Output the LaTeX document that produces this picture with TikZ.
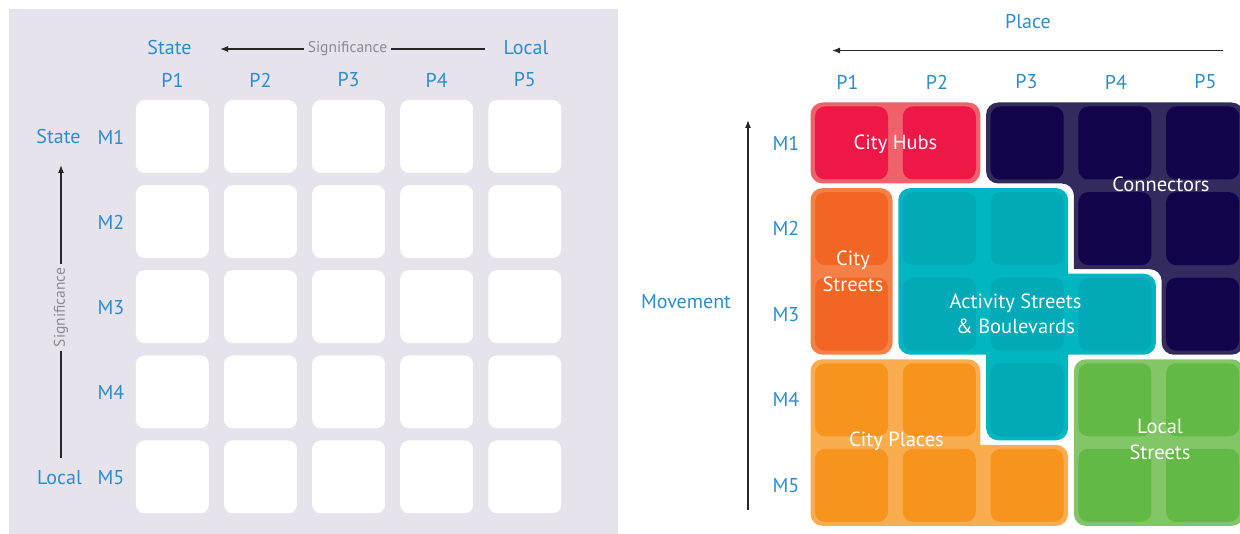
\documentclass[tikz,border=0pt]{standalone}
\usepackage{fontspec}
\setmainfont{PT Sans}
\usetikzlibrary{arrows.meta, positioning}

\definecolor{panelbg}{HTML}{E6E3ED}
\definecolor{axisblue}{HTML}{2B8DCB}
\definecolor{siggray}{HTML}{8C8A90}
\definecolor{hubcell}{HTML}{EE1847}
\definecolor{hubzone}{HTML}{F0616B}
\definecolor{conncell}{HTML}{12034A}
\definecolor{connzone}{HTML}{332B5E}
\definecolor{streetcell}{HTML}{F26522}
\definecolor{streetzone}{HTML}{F58047}
\definecolor{actcell}{HTML}{02A9B6}
\definecolor{actzone}{HTML}{00B6C1}
\definecolor{placecell}{HTML}{F7941E}
\definecolor{placezone}{HTML}{F9AD4E}
\definecolor{localcell}{HTML}{63B946}
\definecolor{localzone}{HTML}{83C668}

\begin{document}
\begin{tikzpicture}[
    x=1pt, y=-1pt,
    axislabel/.style={text=axisblue, font=\fontsize{20}{22}\selectfont, inner sep=0pt},
    siglabel/.style={text=siggray, font=\fontsize{15.5}{17}\selectfont, fill=panelbg, inner xsep=4pt, inner ysep=1pt},
    axisarrow/.style={-{Latex[length=8pt, width=6pt]}, line width=1.2pt, black!85},
    blankcell/.style={fill=white, rounded corners=9pt, minimum width=73pt, minimum height=73pt, inner sep=0pt},
    cell/.style={rounded corners=10pt, minimum width=73pt, minimum height=73pt, inner sep=0pt},
    zone/.style={rounded corners=12pt},
    zonelabel/.style={text=white, font=\fontsize{20.5}{25.5}\selectfont, align=center, inner sep=0pt}
]
\useasboundingbox (0,0) rectangle (1240,534);

% 왼쪽 판: 빈 격자
\fill[panelbg] (8.5,9) rectangle (618,534);

\foreach \c in {1,...,5} {
    \foreach \r in {1,...,5} {
        \node[blankcell] (blank-\c-\r) at ({172.4+88.1*(\c-1)}, {136.5+85.1*(\r-1)}) {};
    }
    \node[axislabel] (lp\c) at ({172.4+88.1*(\c-1)}, 80) {P\c};
    \node[axislabel] (lm\c) at (111, {137+85.2*(\c-1)}) {M\c};
}

\node[axislabel] (topstate) at (169.5,48) {State};
\node[axislabel] (toplocal) at (526,48) {Local};
\node[axislabel] (sidestate) at (58.5,137) {State};
\node[axislabel] (sidelocal) at (59.5,478) {Local};

% 중요도 화살표
\coordinate (sigR) at (485,49);
\coordinate (sigL) at (220,49);
\draw[axisarrow] (sigR) -- node[siglabel, xshift=-5pt] {Significance} (sigL);

\coordinate (sigB) at (61,458);
\coordinate (sigT) at (61,165);
\draw[axisarrow] (sigB) -- node[siglabel, rotate=90, xshift=4pt] {Significance} (sigT);

% 오른쪽 판: 축
\node[axislabel] (place) at (1028,22) {Place};
\coordinate (placeR) at (1223,50.5);
\coordinate (placeL) at (832,50.5);
\draw[axisarrow] (placeR) -- (placeL);

\node[axislabel] (movement) at (686,302) {Movement};
\coordinate (moveB) at (748,510);
\coordinate (moveT) at (748,120);
\draw[axisarrow] (moveB) -- (moveT);

\foreach \c in {1,...,5} {
    \node[axislabel] (rp\c) at ({847.5+89.5*(\c-1)}, 82) {P\c};
    \node[axislabel] (rm\c) at (786, {143+85.6*(\c-1)}) {M\c};
}

% 구역 배경 (안쪽 모서리는 각지게)
\fill[zone, hubzone] (810.5,102.5) rectangle (980.3,183.5);
\fill[zone, connzone] (986.1,102.5) -- (1243.7,102.5) -- (1243.7,354.7) -- (1161.7,354.7)
    -- (1161.7,269.1) [sharp corners] -- (1073.9,269.1) [rounded corners=12pt] -- (1073.9,183.5)
    -- (986.1,183.5) -- cycle;
\fill[zone, streetzone] (810.5,188.1) rectangle (892.5,354.7);
\fill[zone, actzone] (898.3,188.1) -- (1068.1,188.1) [sharp corners] -- (1068.1,273.7)
    [rounded corners=12pt] -- (1155.9,273.7) -- (1155.9,354.7) [sharp corners] -- (1068.1,354.7)
    [rounded corners=12pt] -- (1068.1,440.3) -- (986.1,440.3) [sharp corners] -- (986.1,354.7)
    [rounded corners=12pt] -- (898.3,354.7) -- cycle;
\fill[zone, placezone] (810.5,359.3) -- (980.3,359.3) [sharp corners] -- (980.3,444.9)
    [rounded corners=12pt] -- (1068.1,444.9) -- (1068.1,525.9) -- (810.5,525.9) -- cycle;
\fill[zone, localzone] (1073.9,359.3) rectangle (1243.7,525.9);

% 구역 안의 칸
\foreach \c/\r in {1/1, 2/1}
    \node[cell, fill=hubcell] (hub-\c-\r) at ({851.5+87.8*(\c-1)}, {143+85.6*(\r-1)}) {};
\foreach \c/\r in {3/1, 4/1, 5/1, 4/2, 5/2, 5/3}
    \node[cell, fill=conncell] (conn-\c-\r) at ({851.5+87.8*(\c-1)}, {143+85.6*(\r-1)}) {};
\foreach \c/\r in {1/2, 1/3}
    \node[cell, fill=streetcell] (street-\c-\r) at ({851.5+87.8*(\c-1)}, {143+85.6*(\r-1)}) {};
\foreach \c/\r in {2/2, 3/2, 2/3, 3/3, 4/3, 3/4}
    \node[cell, fill=actcell] (act-\c-\r) at ({851.5+87.8*(\c-1)}, {143+85.6*(\r-1)}) {};
\foreach \c/\r in {1/4, 2/4, 1/5, 2/5, 3/5}
    \node[cell, fill=placecell] (cplace-\c-\r) at ({851.5+87.8*(\c-1)}, {143+85.6*(\r-1)}) {};
\foreach \c/\r in {4/4, 5/4, 4/5, 5/5}
    \node[cell, fill=localcell] (local-\c-\r) at ({851.5+87.8*(\c-1)}, {143+85.6*(\r-1)}) {};

% 구역 이름
\node[zonelabel] (hubs) at (895.5,144) {City Hubs};
\node[zonelabel] (connectors) at (1161,184) {Connectors};
\node[zonelabel] (citystreets) at (853,271.5) {City\\Streets};
\node[zonelabel] (activity) at (1015.5,313.7) {Activity Streets\\\& Boulevards};
\node[zonelabel] (cityplaces) at (896.5,441.5) {City Places};
\node[zonelabel] (localstreets) at (1160,439.5) {Local\\Streets};

\end{tikzpicture}
\end{document}
